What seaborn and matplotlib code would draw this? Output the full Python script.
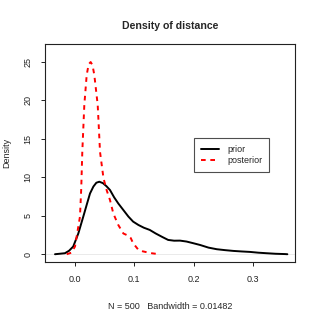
import numpy as np
import pandas as pd
import matplotlib
matplotlib.use("Agg")
import matplotlib.pyplot as plt
from matplotlib.lines import Line2D
import seaborn as sns

# density curves
prior_x = [-0.0337, -0.017, -0.010, -0.003, 0.0056, 0.014, 0.020, 0.0253, 0.031, 0.036,
           0.041, 0.047, 0.053, 0.059, 0.066, 0.073, 0.0815, 0.090, 0.098, 0.107,
           0.116, 0.126, 0.136, 0.147, 0.157, 0.167, 0.177, 0.188, 0.1995, 0.211,
           0.225, 0.239, 0.253, 0.267, 0.281, 0.295, 0.309, 0.323, 0.338, 0.354, 0.358]
prior_y = [0.0, 0.13, 0.45, 1.0, 2.7, 4.9, 6.5, 7.9, 8.8, 9.3,
           9.43, 9.25, 8.85, 8.35, 7.4, 6.6, 5.75, 4.9, 4.24, 3.8,
           3.45, 3.16, 2.7, 2.25, 1.86, 1.76, 1.77, 1.65, 1.43, 1.2,
           0.86, 0.65, 0.53, 0.43, 0.36, 0.3, 0.2, 0.13, 0.06, 0.02, 0.0]

post_x = [-0.014, -0.006, 0.0, 0.0028, 0.0056, 0.0084, 0.0105, 0.0123, 0.0157, 0.0197,
          0.023, 0.0264, 0.0295, 0.0326, 0.0383, 0.0422, 0.048, 0.0535, 0.059, 0.0646,
          0.073, 0.0815, 0.090, 0.094, 0.098, 0.107, 0.114, 0.121, 0.130, 0.138, 0.141]
post_y = [0.0, 0.2, 1.0, 2.3, 3.6, 4.9, 8.5, 13.3, 19.4, 23.3,
          24.7, 25.0, 24.6, 23.3, 19.4, 13.3, 9.9, 8.3, 7.05, 5.3,
          3.8, 2.7, 2.4, 2.1, 1.43, 0.56, 0.38, 0.26, 0.12, 0.04, 0.0]

labels = ["prior", "posterior"]
x_ticks = [0.0, 0.1, 0.2, 0.3]
y_ticks = [0, 5, 10, 15, 20, 25]

df = pd.concat([
    pd.DataFrame({"x": prior_x, "y": prior_y, "kind": labels[0]}),
    pd.DataFrame({"x": post_x, "y": post_y, "kind": labels[1]}),
])

sns.set_style("ticks")
plt.rcParams["font.family"] = ["Liberation Sans", "DejaVu Sans"]
fs = 6.5

fig = plt.figure(figsize=(3.19, 3.19), dpi=100)
ax = fig.add_axes([0.141, 0.178, 0.784, 0.683])

ax.axhline(0, color="#e6e6e6", lw=0.6, zorder=0)
sns.lineplot(data=df, x="x", y="y", hue="kind", style="kind", sort=False,
             palette={"prior": "black", "posterior": "red"},
             dashes={"prior": "", "posterior": (2.4, 2.4)},
             lw=1.4, ax=ax, legend=False)

ax.set_xlim(-0.0506, 0.371)
ax.set_ylim(-1.04, 27.3)
ax.set_xticks(x_ticks)
ax.set_xticklabels([f"{v:.1f}" for v in x_ticks])
ax.set_yticks(y_ticks)
ax.set_yticklabels([str(v) for v in y_ticks], rotation=90, va="center")

for s in ax.spines.values():
    s.set_visible(True)
    s.set_color("#222222")
    s.set_linewidth(0.8)
ax.tick_params(direction="out", length=3, width=0.7, colors="#222222", labelsize=fs)
ax.tick_params(axis="x", pad=6)
ax.tick_params(axis="y", pad=6)

ax.set_title("Density of distance", fontsize=7.6, fontweight="bold", pad=11)
ax.set_xlabel("N = 500   Bandwidth = 0.01482", fontsize=fs, labelpad=13)
ax.set_ylabel("Density", fontsize=fs)
ax.yaxis.set_label_coords(-0.135, 0.5)

handles = [Line2D([], [], color="black", lw=1.4),
           Line2D([], [], color="red", lw=1.4, dashes=(2.4, 2.4))]
leg = ax.legend(handles, labels, loc="upper left", bbox_to_anchor=(0.596, 0.57),
                fontsize=fs, frameon=True, fancybox=False, handlelength=2.0,
                handletextpad=0.9, borderpad=0.75, labelspacing=0.25, borderaxespad=0)
leg.get_frame().set_edgecolor("#222222")
leg.get_frame().set_linewidth(0.8)

fig.savefig("out.png", dpi=100)
